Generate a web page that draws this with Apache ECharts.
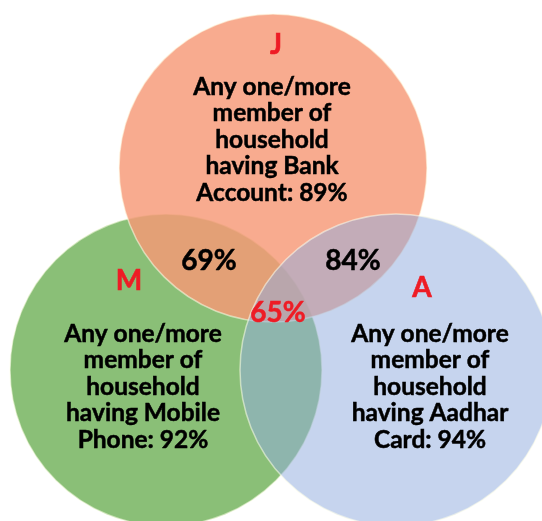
<!DOCTYPE html>
<html>
<head>
<meta charset="utf-8">
<style>
  html, body { margin: 0; padding: 0; background: #ffffff; }
  #chart { width: 542px; height: 521px; }
</style>
<script src="https://cdn.jsdelivr.net/npm/echarts@6/dist/echarts.min.js"></script>
</head>
<body>
<div id="chart"></div>
<script>
// ---- data ----
const setKeys = ['M', 'J', 'A'];                 // drawing order
const setLetters = ['M', 'J', 'A'];
const setItems = ['Mobile\nPhone', 'Bank\nAccount', 'Aadhar\nCard'];
const setShares = [92, 89, 94];
const overlapNames = ['J∩M', 'J∩A', 'J∩M∩A'];
const overlapShares = [69, 84, 65];

// ---- layout (diagram coordinates, not data) ----
const layout = {
  M: { cx: 166, cy: 370, r: 156, letter: [129, 281], text: [143, 387] },
  J: { cx: 273, cy: 168, r: 154, letter: [276, 45],  text: [272, 140] },
  A: { cx: 396, cy: 370, r: 156, letter: [422, 288], text: [430, 387] }
};
const overlapPos = { 'J∩M': [209, 261], 'J∩A': [353, 261], 'J∩M∩A': [278, 313] };
const fills = {
  M: 'rgb(138,191,119)',
  J: 'rgba(246,152,118,0.82)',
  A: 'rgba(146,173,223,0.52)'
};
const edge = 'rgba(255,255,235,0.55)';
const FONT = 'Lato, Carlito, "Open Sans", sans-serif';

function descText(i) {
  const parts = setItems[i].split('\n');
  return 'Any one/more\nmember of\nhousehold\nhaving ' + parts[0] + '\n' + parts[1] + ': ' + setShares[i] + '%';
}

const circleData = setKeys.map(k => [layout[k].cx, layout[k].cy, layout[k].r, k]);
const setLabelData = setKeys.map((k, i) => [layout[k].text[0], layout[k].text[1], layout[k].letter[0], layout[k].letter[1], i]);
const overlapData = overlapNames.map((n, i) => [overlapPos[n][0], overlapPos[n][1], i]);

const chart = echarts.init(document.getElementById('chart'), null, { renderer: 'canvas' });
chart.setOption({
  animation: false,
  backgroundColor: '#ffffff',
  grid: { left: 0, right: 0, top: 0, bottom: 0 },
  xAxis: { type: 'value', min: 0, max: 542, show: false },
  yAxis: { type: 'value', min: 0, max: 521, inverse: true, show: false },
  series: [
    {
      type: 'custom',
      coordinateSystem: 'cartesian2d',
      data: circleData,
      z: 1,
      renderItem: function (params, api) {
        const c = api.coord([api.value(0), api.value(1)]);
        const r = api.size([api.value(2), 0])[0];
        const k = circleData[params.dataIndex][3];
        return {
          type: 'circle',
          shape: { cx: c[0], cy: c[1], r: r },
          style: { fill: fills[k], stroke: edge, lineWidth: 1.5 }
        };
      }
    },
    {
      type: 'custom',
      coordinateSystem: 'cartesian2d',
      data: setLabelData,
      z: 3,
      renderItem: function (params, api) {
        const i = api.value(4);
        const t = api.coord([api.value(0), api.value(1)]);
        const l = api.coord([api.value(2), api.value(3)]);
        return {
          type: 'group',
          children: [
            {
              type: 'text', x: t[0], y: t[1],
              style: {
                text: descText(i), fill: '#000000', fontFamily: FONT, fontWeight: 'bold',
                fontSize: 24.5, lineHeight: 26.5, align: 'center', verticalAlign: 'middle',
                stroke: '#000000', lineWidth: 0.5
              }
            },
            {
              type: 'text', x: l[0], y: l[1],
              style: {
                text: setLetters[i], fill: '#ee1c25', fontFamily: FONT, fontWeight: 'bold',
                fontSize: 28, align: 'center', verticalAlign: 'middle',
                stroke: '#ee1c25', lineWidth: 0.6
              }
            }
          ]
        };
      }
    },
    {
      type: 'custom',
      coordinateSystem: 'cartesian2d',
      data: overlapData,
      z: 3,
      renderItem: function (params, api) {
        const i = api.value(2);
        const p = api.coord([api.value(0), api.value(1)]);
        const col = i === 2 ? '#ee1c25' : '#000000';
        return {
          type: 'text', x: p[0], y: p[1],
          style: {
            text: overlapShares[i] + '%',
            fill: col, stroke: col, lineWidth: 0.5,
            fontFamily: FONT, fontWeight: 'bold', fontSize: 28,
            align: 'center', verticalAlign: 'middle'
          }
        };
      }
    }
  ]
});
</script>
</body>
</html>
